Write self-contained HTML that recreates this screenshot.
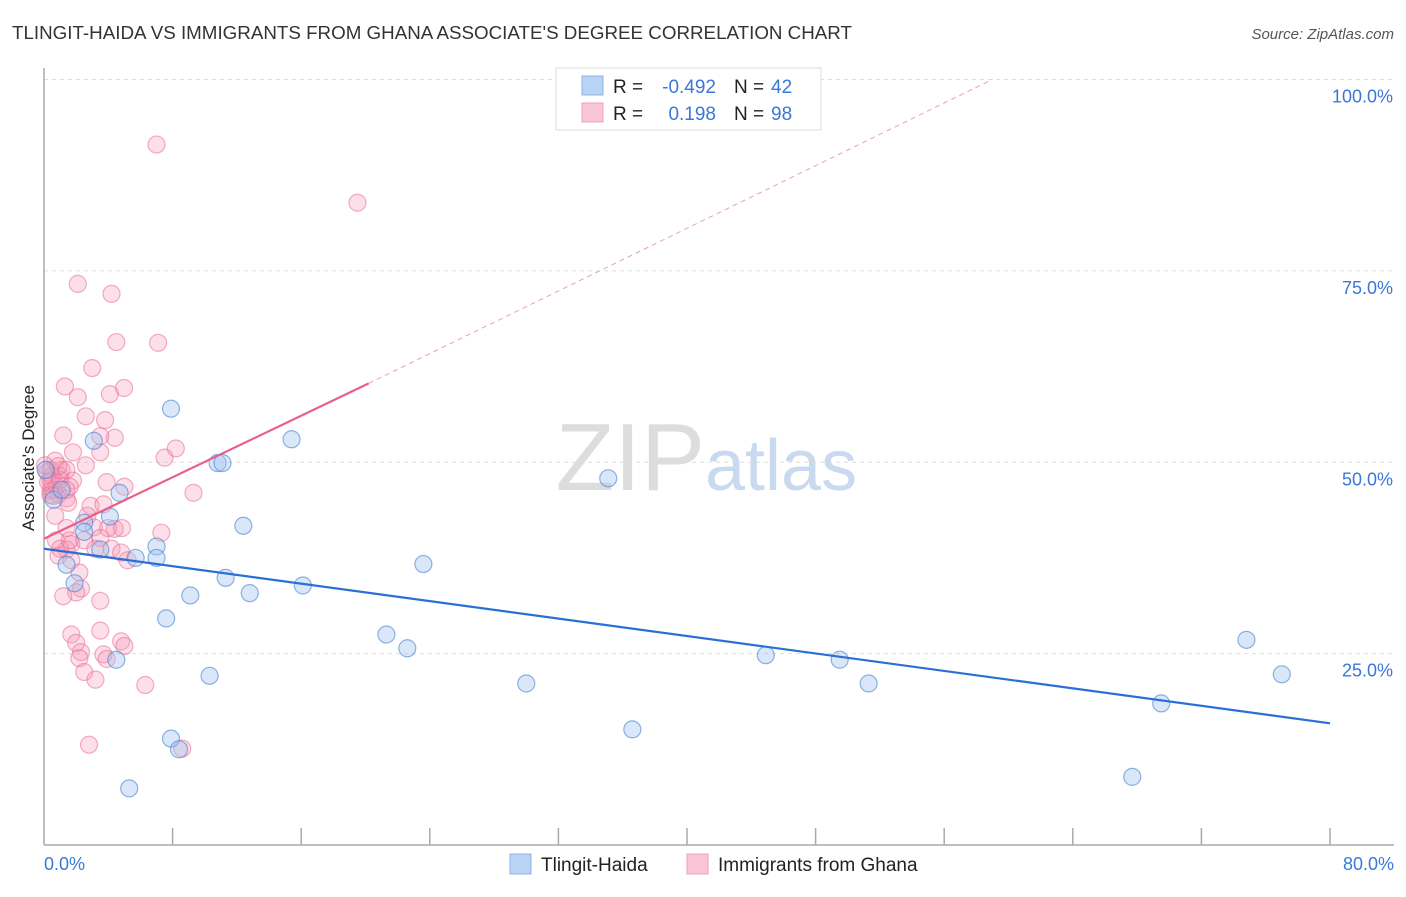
<!DOCTYPE html>
<html><head><meta charset="utf-8"><style>
body{margin:0;background:#fff;font-family:"Liberation Sans",sans-serif;}
svg text{font-family:"Liberation Sans",sans-serif;}
</style></head><body>
<svg id="chart" width="1406" height="892" xmlns="http://www.w3.org/2000/svg">
<text x="12" y="39" font-size="18.5" fill="#333" textLength="840" lengthAdjust="spacingAndGlyphs">TLINGIT-HAIDA VS IMMIGRANTS FROM GHANA ASSOCIATE'S DEGREE CORRELATION CHART</text>
<text x="1394" y="39" font-size="15" fill="#555" font-style="italic" text-anchor="end">Source: ZipAtlas.com</text>
<text x="705" y="490" font-size="96" fill="#ddd" font-family="Liberation Serif" text-anchor="end">ZIP</text>
<text x="705" y="490" font-size="72" fill="#c9daf0">atlas</text>
<g id="grid"></g>
<line x1="44" y1="68" x2="44" y2="845" stroke="#aaa" stroke-width="1.5"/>
<line x1="44" y1="845" x2="1394" y2="845" stroke="#aaa" stroke-width="1.5"/>
<text x="0" y="0" transform="translate(34,458) rotate(-90)" font-size="17" fill="#222" text-anchor="middle">Associate's Degree</text>
<text x="44" y="870" font-size="18" fill="#3a78d6">0.0%</text>
<text x="1394" y="870" font-size="18" fill="#3a78d6" text-anchor="end">80.0%</text>
<g id="marks"></g>
<g>
<rect x="556" y="68" width="265" height="62" fill="#fff" stroke="#ddd"/>
<rect x="582" y="76" width="21" height="19" fill="#b9d3f5" stroke="#8db3e8"/>
<rect x="582" y="103" width="21" height="19" fill="#f9c6d6" stroke="#f0a0b8"/>
<text x="613" y="93" font-size="19" fill="#222">R = </text><text x="716" y="93" font-size="19" fill="#3a78d6" text-anchor="end">-0.492</text>
<text x="734" y="93" font-size="19" fill="#222">N = </text><text x="771" y="93" font-size="19" fill="#3a78d6">42</text>
<text x="613" y="120" font-size="19" fill="#222">R = </text><text x="716" y="120" font-size="19" fill="#3a78d6" text-anchor="end">0.198</text>
<text x="734" y="120" font-size="19" fill="#222">N = </text><text x="771" y="120" font-size="19" fill="#3a78d6">98</text>
</g>
<g>
<rect x="510" y="854" width="21" height="20" fill="#b9d3f5" stroke="#8db3e8"/>
<text x="541" y="871" font-size="19" fill="#222">Tlingit-Haida</text>
<rect x="687" y="854" width="21" height="20" fill="#f9c6d6" stroke="#f0a0b8"/>
<text x="718" y="871" font-size="19" fill="#222">Immigrants from Ghana</text>
</g>
</svg>
<script>
const yTicks=[25,50,75,100];
const xTickCount=10;
const blueX=[7.9,3.1,15.4,10.8,11.1,35.1,4.7,4.1,12.4,2.5,7.0,3.5,5.7,7.0,23.6,11.3,1.4,1.9,16.1,9.1,12.8,7.6,21.3,22.6,44.9,49.5,74.8,77.0,4.5,10.3,30.0,51.3,69.5,36.6,7.9,8.4,67.7,5.3,0.6,0.1,1.1,2.5];
const blueY=[57.0,52.8,53.0,49.9,49.9,47.9,46.0,42.9,41.7,42.1,39.0,38.6,37.5,37.5,36.7,34.9,36.6,34.2,33.9,32.6,32.9,29.6,27.5,25.7,24.8,24.2,26.8,22.3,24.2,22.1,21.1,21.1,18.5,15.1,13.9,12.5,8.9,7.4,45.1,49.0,46.4,40.9];
const pinkX=[7.0,19.5,2.1,4.2,4.5,7.1,3.0,1.3,4.98,2.1,4.1,2.6,3.8,1.2,4.4,3.5,8.2,7.5,1.8,3.5,0.7,2.6,0.2,1.0,0.4,0.8,1.8,3.9,5.0,0.4,0.9,1.4,9.3,2.9,3.7,1.5,0.7,2.7,7.3,1.4,3.1,4.4,3.5,1.7,4.2,1.4,4.8,5.2,0.9,1.7,2.2,2.3,2.0,1.2,3.5,1.7,3.5,4.8,2.0,5.0,2.3,3.7,3.9,2.2,2.5,3.2,6.3,2.8,8.6,0.4,0.5,0.25,0.6,1.0,1.1,0.06,0.9,0.4,1.6,1.4,0.75,1.0,3.98,4.85,1.6,3.2,2.5,0.6,1.4];
const pinkY=[91.5,83.9,73.3,72.0,65.7,65.6,62.3,59.9,59.7,58.5,58.9,56.0,55.5,53.5,53.2,53.4,51.8,50.6,51.3,51.3,50.2,49.6,48.7,48.2,47.6,46.8,47.6,47.4,46.8,46.3,45.8,45.3,46.0,44.3,44.5,44.7,43.0,43.0,40.8,41.4,41.5,41.3,40.1,39.3,38.7,38.6,38.2,37.2,37.8,37.2,35.6,33.5,33.0,32.5,31.9,27.5,28.0,26.6,26.4,26.0,25.2,24.9,24.3,24.4,22.6,21.6,20.9,13.1,12.6,49.0,48.2,47.4,46.4,47.7,49.0,49.6,49.5,45.7,46.8,49.0,39.8,38.7,41.4,41.4,39.8,38.7,39.8,45.6,46.4];
const blueLine=[[0,38.7],[80,15.9]];
const pinkLine=[[0,40.0],[20.2,60.3]];
const pinkDash=[[20.2,60.3],[59.0,100]];
const X=v=>44+v/80*1286, Y=v=>845-v/100*765.5;
const ns="http://www.w3.org/2000/svg";
const grid=document.getElementById('grid'), marks=document.getElementById('marks'), svg=document.getElementById('chart');
function mk(tag,at,parent){const e=document.createElementNS(ns,tag);for(const k in at)e.setAttribute(k,at[k]);parent.appendChild(e);return e;}
yTicks.forEach(t=>{
  const l=mk('line',{x1:44,x2:1394,y1:Y(t),y2:Y(t),stroke:'#ddd','stroke-dasharray':'4,4'},grid);
  
  
  const tx=mk('text',{x:1393,y:Y(t)+23,'font-size':18,fill:'#3a78d6','text-anchor':'end'},svg);
  tx.textContent=t.toFixed(1)+'%';
  
  
});
for(let i=1;i<=xTickCount;i++){
  const l=mk('line',{x1:X(i*8),x2:X(i*8),y1:845,y2:828,stroke:'#aaa','stroke-width':1.5},grid);
  
  
}
pinkX.forEach((v,i)=>{
  const c=mk('circle',{cx:X(v),cy:Y(pinkY[i]),r:8.5,fill:'rgba(244,150,180,0.3)',stroke:'rgba(232,110,150,0.55)','stroke-width':1.2},marks);
  
  
});
blueX.forEach((v,i)=>{
  const c=mk('circle',{cx:X(v),cy:Y(blueY[i]),r:8.5,fill:'rgba(160,195,240,0.4)',stroke:'rgba(70,130,210,0.6)','stroke-width':1.2},marks);
  
  
});
const bl=mk('line',{x1:X(blueLine[0][0]),y1:Y(blueLine[0][1]),x2:X(blueLine[1][0]),y2:Y(blueLine[1][1]),stroke:'#2a6fd6','stroke-width':2.2},marks);


const pl=mk('line',{x1:X(pinkLine[0][0]),y1:Y(pinkLine[0][1]),x2:X(pinkLine[1][0]),y2:Y(pinkLine[1][1]),stroke:'#e8608a','stroke-width':2.2},marks);


const pd=mk('line',{x1:X(pinkDash[0][0]),y1:Y(pinkDash[0][1]),x2:X(pinkDash[1][0]),y2:Y(pinkDash[1][1]),stroke:'#eaa0b8','stroke-width':1,'stroke-dasharray':'5,4'},marks);


</script>
</body></html>
